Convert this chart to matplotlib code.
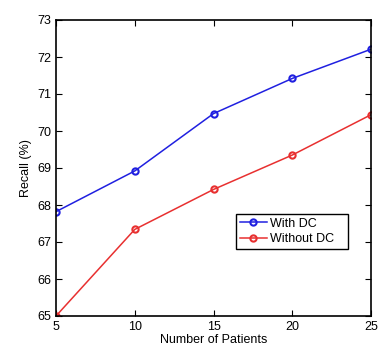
import matplotlib
matplotlib.use('Agg')
import matplotlib.pyplot as plt

patients = [5, 10, 15, 20, 25]
with_dc = [67.82, 68.92, 70.47, 71.42, 72.21]
without_dc = [65.0, 67.34, 68.42, 69.35, 70.44]

plt.rcParams['font.family'] = ['Liberation Sans', 'DejaVu Sans']

fig = plt.figure(figsize=(3.82, 3.54), dpi=100)
ax = fig.add_axes([56/382, 1 - 316/354, 315/382, 296/354])

ax.plot(patients, with_dc, color='#2020e0', marker='o', markersize=4.5,
        markerfacecolor='none', markeredgewidth=1.5, linewidth=1.1, label='With DC')
ax.plot(patients, without_dc, color='#e83030', marker='o', markersize=4.5,
        markerfacecolor='none', markeredgewidth=1.5, linewidth=1.1, label='Without DC')

ax.set_xlim(5, 25)
ax.set_ylim(65, 73)
ax.set_xticks([5, 10, 15, 20, 25])
ax.set_yticks(range(65, 74))
ax.tick_params(direction='in', top=True, right=True, labelsize=9, length=4, width=0.8)
for s in ax.spines.values():
    s.set_linewidth(1.2)

ax.set_xlabel('Number of Patients', fontsize=9, labelpad=1)
ax.set_ylabel('Recall (%)', fontsize=9, labelpad=4)

leg = ax.legend(loc='lower left', bbox_to_anchor=(0.571, 0.226, 0.356, 0.156),
                mode='expand', fontsize=9, fancybox=False, framealpha=1,
                edgecolor='black', handlelength=2.2, handletextpad=0.2,
                borderpad=0.3, labelspacing=0.3, borderaxespad=0)
leg.get_frame().set_linewidth(1.0)

plt.savefig('out.png', dpi=100)
plt.close()
